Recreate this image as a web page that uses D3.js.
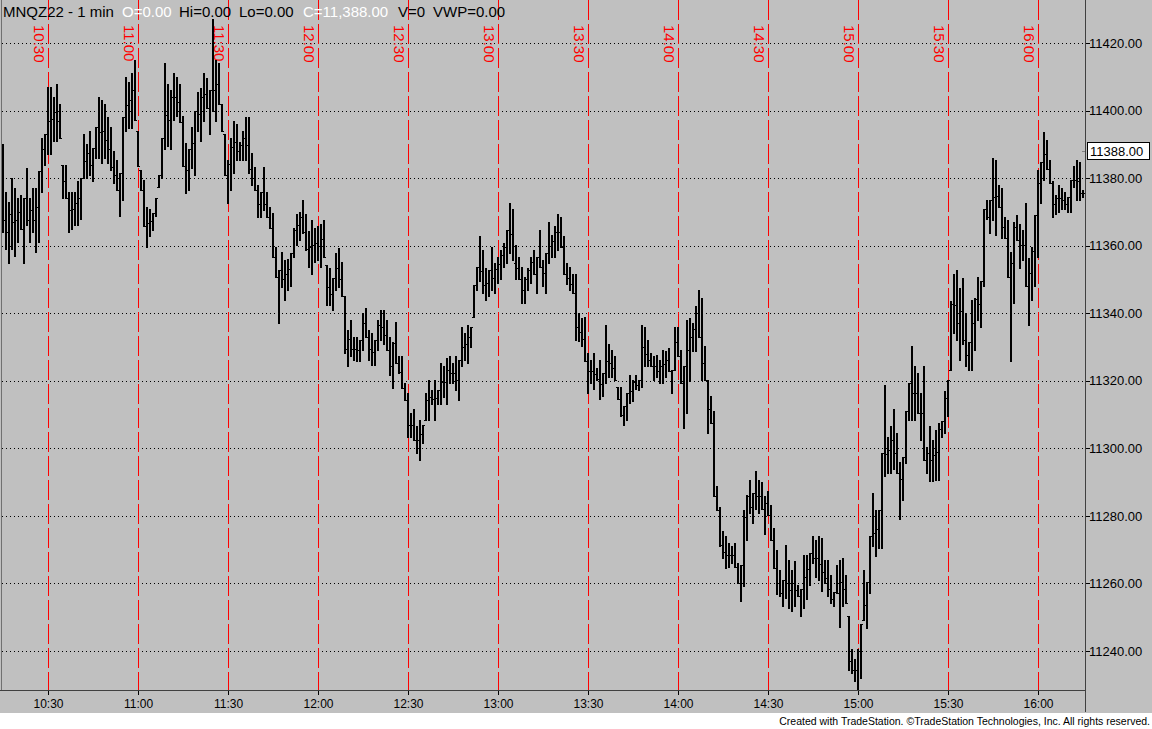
<!DOCTYPE html>
<html>
<head>
<meta charset="utf-8">
<script src="https://cdn.jsdelivr.net/npm/d3@7"></script>
<style>
  body { margin: 0; background: #c0c0c0; }
  svg { display: block; font-family: Arial, "Liberation Sans", sans-serif; }
</style>
</head>
<body>
<div id="chart"></div>
<script>
// MNQZ22, 1-minute bars from 10:15 to 16:15
const startTime = "10:15";
const endTime = "16:15";

const opens = [
  11385, 11367.5, 11364, 11369.5, 11367, 11367.5, 11370, 11365, 11374, 11367.5,
  11370.5, 11367.5, 11371.5, 11382, 11388.5, 11393, 11397, 11397.5, 11399.5, 11397,
  11384, 11379, 11374, 11370.5, 11371, 11372.5, 11374, 11380, 11385, 11387.5,
  11384, 11389, 11395, 11393.75, 11394, 11391.25, 11388.75, 11383.25, 11381, 11376.5,
  11381.5, 11398, 11401.5, 11403, 11406, 11394, 11382.5, 11376.5, 11365.75, 11366.75,
  11367.25, 11369.75, 11377.5, 11381, 11392, 11398.75, 11397.25, 11404, 11404, 11402.5,
  11396.75, 11383.5, 11382.5, 11388.5, 11390.5, 11399.75, 11399, 11404, 11405, 11400.75,
  11406, 11406, 11408, 11402, 11393, 11381, 11384.25, 11389.25, 11390.75, 11388,
  11389.75, 11391.75, 11389.75, 11382.75, 11380, 11376.5, 11372.25, 11376, 11372.25, 11368.5,
  11365.25, 11356.75, 11350.75, 11352.75, 11350, 11351.5, 11353, 11357.75, 11364.75, 11366,
  11368.5, 11364, 11359, 11359.5, 11360.25, 11360.75, 11360, 11362, 11354.25, 11347.75,
  11345.75, 11350.5, 11353.5, 11350, 11345, 11329.5, 11332.5, 11329.5, 11329.5, 11329,
  11332, 11337.25, 11333, 11329.5, 11328.5, 11332, 11336.5, 11336, 11333.5, 11329,
  11324.5, 11331.25, 11325.25, 11322.5, 11317.75, 11314.25, 11307, 11307, 11302.5, 11302.5,
  11304.25, 11308.5, 11314.25, 11315.25, 11314.5, 11315, 11317.25, 11319.75, 11319.75, 11323.25,
  11322.25, 11322.25, 11320.25, 11326.25, 11330, 11330.75, 11333, 11339, 11348.5, 11353.75,
  11352.5, 11348.5, 11349, 11352.75, 11350.5, 11353, 11354.5, 11357.25, 11359.75, 11364.75,
  11363.5, 11355, 11353.5, 11350, 11347, 11350, 11352.75, 11355.25, 11351.75, 11356.75,
  11353.75, 11352, 11357.75, 11360, 11361.25, 11364, 11364, 11359.75, 11351.75, 11350.5,
  11348.75, 11346, 11336, 11334.5, 11332.5, 11325.75, 11322.75, 11322.75, 11322, 11320.5,
  11319, 11322.25, 11326, 11325.25, 11323.75, 11318.25, 11314.5, 11309.75, 11312.5, 11316.5,
  11317, 11319.5, 11318.75, 11320.25, 11330, 11328, 11326.25, 11324.25, 11324.5, 11322.75,
  11324.25, 11325, 11326.25, 11322.75, 11323.25, 11331.5, 11327.25, 11319.25, 11324.25, 11329.25,
  11333, 11335.25, 11340, 11333, 11325.25, 11320.25, 11311.5, 11307.5, 11285.75, 11281.75,
  11271.5, 11269.25, 11268.5, 11268.5, 11268.5, 11265, 11260.25, 11265.5, 11279.75, 11286,
  11282.5, 11286.75, 11286, 11286, 11282, 11283.75, 11280.25, 11273, 11264.5, 11260.25,
  11257.25, 11261, 11260, 11258, 11260, 11258, 11256.25, 11258.5, 11262, 11264.25,
  11269, 11267.5, 11267.5, 11265.75, 11263.5, 11261.5, 11258.5, 11255.5, 11257.5, 11257.25,
  11260.5, 11258.5, 11250.25, 11237, 11234.25, 11234.5, 11240, 11249.25, 11253.5, 11260.5,
  11274, 11275, 11276, 11281.75, 11298.5, 11298.25, 11299.5, 11302.5, 11298.5, 11292.75,
  11291, 11297.5, 11311, 11319.25, 11316.5, 11316.5, 11310.5, 11310.5, 11296.5, 11298.5,
  11296.5, 11298, 11299, 11305.75, 11308, 11315, 11323.25, 11342.75, 11342.5, 11337,
  11340.75, 11332, 11327.5, 11331.5, 11337, 11344.25, 11342.75, 11349.5, 11370.75, 11368.5,
  11373.5, 11374.5, 11374.75, 11371.5, 11365.5, 11362.25, 11350.75, 11355, 11365.5, 11361.75,
  11360.25, 11360.25, 11348, 11352, 11358.5, 11369, 11378.5, 11384.75, 11387, 11382.75,
  11378.5, 11372.25, 11374, 11374, 11373.5, 11372.25, 11374.5, 11379.5, 11379.5, 11379,
  11375.5
];

const highs = [
  11390, 11376, 11373, 11380, 11377, 11374, 11375, 11374, 11383, 11374,
  11377, 11377, 11382, 11392, 11393, 11407, 11407, 11404, 11408, 11402,
  11384, 11384, 11376, 11376, 11376, 11379, 11380, 11393, 11390, 11394,
  11389, 11395, 11404, 11403, 11402, 11398, 11395, 11388, 11385.5, 11381.5,
  11398, 11410, 11408.5, 11411, 11415, 11394, 11382.5, 11379.5, 11371.5, 11370.75,
  11369.75, 11374, 11381, 11392, 11414, 11408, 11406, 11411, 11410, 11408,
  11398.25, 11390.5, 11388.5, 11395, 11400, 11405.5, 11406.75, 11411, 11409.5, 11406,
  11427, 11415, 11414, 11402, 11393, 11385.5, 11392, 11397, 11396, 11390.75,
  11394, 11398, 11398, 11387.5, 11383.25, 11378, 11376, 11383.25, 11376, 11371.5,
  11369.75, 11359.5, 11352.75, 11358, 11355.75, 11356, 11357.75, 11365.25, 11369.5, 11370,
  11373.5, 11369.5, 11364.25, 11367.5, 11365.25, 11365.75, 11366.5, 11367.5, 11354.25, 11353.25,
  11350.5, 11357.75, 11359.25, 11355.25, 11345, 11335, 11338, 11333, 11333, 11332,
  11340, 11341.5, 11335, 11334, 11332, 11338, 11341, 11341, 11338, 11333,
  11331.5, 11337.5, 11327.25, 11327.25, 11319.25, 11316.25, 11310.5, 11311.5, 11306.5, 11308.5,
  11307, 11316.25, 11320.25, 11317.25, 11320.25, 11317.25, 11325.25, 11324.25, 11326.75, 11327.25,
  11325.25, 11327.25, 11326.25, 11336, 11334, 11336.5, 11336, 11348.5, 11353.75, 11362.75,
  11358.75, 11353.25, 11352.75, 11359.75, 11354.75, 11356.75, 11358.75, 11360.75, 11364.75, 11372.5,
  11371, 11360.25, 11356.75, 11353.75, 11350.75, 11353.25, 11356.75, 11358.75, 11356.75, 11364.75,
  11355.75, 11357.75, 11367, 11363.25, 11365.75, 11369.5, 11368.5, 11362.75, 11354.75, 11353.75,
  11351.5, 11351.5, 11340, 11338.5, 11339, 11328.25, 11326.25, 11328.25, 11323.75, 11326.25,
  11322.25, 11336.5, 11330.75, 11329.25, 11327.25, 11318.25, 11318.25, 11312.5, 11316.5, 11321.75,
  11320.25, 11321.75, 11320.25, 11336.5, 11336, 11332, 11328.25, 11327.25, 11327.75, 11326.25,
  11329.25, 11328.75, 11329.75, 11323.25, 11336, 11336, 11329.25, 11324.25, 11338, 11338.5,
  11337, 11342, 11347, 11344.5, 11330.25, 11320.25, 11315.5, 11311, 11288.75, 11282.75,
  11275.5, 11274, 11272, 11271, 11272, 11266, 11265.5, 11281.75, 11286.25, 11290.75,
  11286.75, 11293.25, 11290.75, 11290, 11285.75, 11287.25, 11283.25, 11276.5, 11270, 11264,
  11261, 11271.5, 11267, 11264, 11266.5, 11259.5, 11258.5, 11268.5, 11268.5, 11269,
  11274, 11273, 11274, 11273.5, 11267, 11267, 11262.5, 11257.5, 11265.5, 11267,
  11267.5, 11262.5, 11250.25, 11240.5, 11237.5, 11240.5, 11248, 11264, 11260.5, 11274,
  11286.75, 11281.75, 11281.75, 11298.5, 11318.75, 11303.5, 11306.5, 11311.5, 11304.5, 11296,
  11297.5, 11311, 11319.25, 11330.25, 11324.25, 11322.25, 11316.5, 11324.25, 11300.5, 11306.5,
  11302.5, 11305.5, 11307.5, 11308, 11317, 11320.25, 11343.75, 11351.75, 11352.75, 11347.5,
  11350.5, 11340, 11331.5, 11344, 11344.5, 11350.75, 11349.5, 11371, 11373.5, 11373.5,
  11386, 11385.5, 11378, 11377, 11368.5, 11367.5, 11358.25, 11367, 11369, 11366.5,
  11364.75, 11372.5, 11356.25, 11359.75, 11369, 11382.5, 11384.75, 11393.75, 11391.25, 11385.25,
  11379.25, 11375, 11378, 11377, 11376, 11374.5, 11379.5, 11383.5, 11385.25, 11384.75,
  11376.5
];

const lows = [
  11364, 11359, 11355, 11359, 11357, 11361, 11365, 11355, 11366, 11361,
  11364, 11358, 11361, 11376, 11384, 11387, 11387, 11391, 11391, 11392,
  11374, 11374, 11364, 11365, 11366, 11366, 11368, 11380, 11380, 11381,
  11379, 11386, 11386, 11384.5, 11386, 11384.5, 11382.5, 11378.5, 11376.5, 11368.75,
  11373.5, 11394, 11394.75, 11394.75, 11397.25, 11383.5, 11376.5, 11365.75, 11359.75, 11362.75,
  11364.75, 11368.75, 11377.5, 11380, 11388.5, 11389.5, 11388.5, 11397.25, 11398.25, 11396.75,
  11383.5, 11375.5, 11376.5, 11383, 11381, 11394, 11391, 11397, 11400.75, 11393,
  11400, 11397, 11402, 11394, 11381, 11372.75, 11376.5, 11381.5, 11385.5, 11385.5,
  11385.5, 11385.5, 11381.5, 11378, 11376.5, 11368.5, 11368.5, 11370.5, 11368.5, 11365.25,
  11356.75, 11350.75, 11337.25, 11347.75, 11344, 11347, 11348, 11356.75, 11360.25, 11361.75,
  11363.75, 11358.75, 11353.75, 11351.75, 11355.25, 11355.75, 11353.75, 11356.75, 11342.5, 11342.5,
  11341, 11346.75, 11347.75, 11345, 11328.25, 11324.25, 11327.25, 11326.25, 11325.75, 11325.75,
  11329.25, 11333, 11326.25, 11324.75, 11324.75, 11329.25, 11332, 11331, 11329, 11321.75,
  11317.75, 11325.25, 11322.25, 11317.75, 11314.25, 11303.5, 11303.5, 11302.5, 11298.5, 11296.5,
  11301.5, 11308.5, 11308.5, 11313.25, 11308.5, 11313, 11313, 11315.25, 11313, 11319.25,
  11319.25, 11317.25, 11314.25, 11324.25, 11326.25, 11325.25, 11330, 11339, 11346.75, 11349.5,
  11346, 11344, 11345, 11347, 11346, 11349, 11350, 11353.75, 11354.75, 11357.75,
  11355.75, 11350, 11350, 11343, 11343, 11347, 11349, 11351.75, 11346, 11353.75,
  11348, 11346, 11354.75, 11356.75, 11356.75, 11358.75, 11359.75, 11351.75, 11348.75, 11347,
  11346, 11332, 11331.75, 11330.25, 11325.75, 11316.5, 11319.25, 11317.5, 11320.25, 11314.5,
  11315.5, 11319.25, 11321.25, 11321.25, 11320.25, 11314.5, 11309.5, 11307, 11308.5, 11313.5,
  11314, 11317.5, 11317.25, 11318.25, 11324.25, 11324.25, 11324.25, 11320.25, 11321.25, 11319.25,
  11319.25, 11321.25, 11322.75, 11316.5, 11323.25, 11327.25, 11319.25, 11306, 11310.5, 11320,
  11328.75, 11328.75, 11333, 11320.25, 11320.25, 11304.5, 11307.5, 11285.75, 11281.75, 11271,
  11267.5, 11264.5, 11265, 11266, 11265, 11260, 11254.75, 11259.25, 11273, 11281,
  11278, 11282, 11281, 11282, 11274.5, 11280.25, 11273, 11264.5, 11256.75, 11256.25,
  11253.25, 11255.75, 11252.75, 11251.75, 11253.25, 11256.25, 11250.25, 11252.75, 11255.25, 11259.5,
  11266, 11262, 11261, 11257.75, 11260, 11256.25, 11254.25, 11253.25, 11257.25, 11247.25,
  11253.25, 11254.25, 11234.5, 11233.5, 11231, 11228.5, 11232, 11249.25, 11246.75, 11257.25,
  11271, 11268, 11270.5, 11270.5, 11291.75, 11292.75, 11292.75, 11293.75, 11292.75, 11279,
  11284.75, 11295.75, 11308.5, 11308.5, 11308.5, 11310.5, 11302.5, 11296.5, 11292.75, 11290.25,
  11290.25, 11290.75, 11290.75, 11303.5, 11304.5, 11309.5, 11323.25, 11334, 11332, 11326.25,
  11331, 11324.25, 11323.25, 11323.25, 11329.25, 11338, 11336, 11348, 11368, 11363.75,
  11367.5, 11363.25, 11371.5, 11362.25, 11362.25, 11350.75, 11325.75, 11343, 11361.75, 11353.25,
  11355.75, 11348, 11336.5, 11344, 11348, 11356.75, 11372.5, 11379.5, 11382.75, 11378.5,
  11368.5, 11369.5, 11370, 11371, 11371, 11370, 11370, 11377.5, 11373.5, 11373.5,
  11374.5
];

const closes = [
  11367.5, 11364, 11369.5, 11367, 11367.5, 11370, 11365, 11374, 11367.5, 11370.5,
  11367.5, 11371.5, 11382, 11388.5, 11393, 11397, 11397.5, 11399.5, 11397, 11392,
  11379, 11374, 11370.5, 11371, 11372.5, 11374, 11380, 11385, 11387.5, 11384,
  11389, 11395, 11393.75, 11394, 11391.25, 11388.75, 11383.25, 11381, 11376.5, 11381.5,
  11398, 11401.5, 11403, 11406, 11397.25, 11383.5, 11376.5, 11365.75, 11366.75, 11367.25,
  11369.75, 11374, 11381, 11392, 11398.75, 11397.25, 11404, 11404, 11402.5, 11396.75,
  11383.5, 11382.5, 11388.5, 11390.5, 11399.75, 11399, 11404, 11405, 11400.75, 11406,
  11406, 11408, 11402, 11394, 11381, 11384.25, 11389.25, 11390.75, 11388, 11389.75,
  11391.75, 11389.75, 11382.75, 11380, 11376.5, 11372.25, 11376, 11372.25, 11368.5, 11365.25,
  11356.75, 11350.75, 11352.75, 11350, 11351.5, 11353, 11357.75, 11364.75, 11366, 11368.5,
  11364, 11359, 11359.5, 11360.25, 11360.75, 11360, 11362, 11356.75, 11347.75, 11345.75,
  11350.5, 11353.5, 11350, 11345, 11329.5, 11332.5, 11329.5, 11329.5, 11329, 11332,
  11337.25, 11333, 11329.5, 11328.5, 11332, 11336.5, 11336, 11333.5, 11329, 11324.5,
  11331.25, 11325.25, 11322.5, 11317.75, 11314.25, 11307, 11307, 11302.5, 11302.5, 11304.25,
  11307, 11314.25, 11315.25, 11314.5, 11315, 11317.25, 11319.75, 11319.75, 11323.25, 11322.25,
  11322.25, 11320.25, 11326.25, 11330, 11330.75, 11333, 11336, 11348.5, 11353.75, 11352.5,
  11348.5, 11349, 11352.75, 11350.5, 11353, 11354.5, 11357.25, 11359.75, 11364.75, 11363.5,
  11355, 11353.5, 11350, 11347, 11350, 11352.75, 11355.25, 11351.75, 11356.75, 11353.75,
  11352, 11357.75, 11360, 11361.25, 11364, 11364, 11359.75, 11351.75, 11350.5, 11348.75,
  11346, 11336, 11334.5, 11332.5, 11325.75, 11322.75, 11322.75, 11322, 11320.5, 11319,
  11322.25, 11326, 11325.25, 11323.75, 11320.25, 11314.5, 11309.75, 11312.5, 11316.5, 11317,
  11319.5, 11318.75, 11320.25, 11330, 11328, 11326.25, 11324.25, 11324.5, 11322.75, 11324.25,
  11325, 11326.25, 11322.75, 11323.25, 11331.5, 11327.25, 11319.25, 11324.25, 11329.25, 11333,
  11335.25, 11340, 11333, 11325.25, 11320.25, 11311.5, 11307.5, 11285.75, 11281.75, 11271.5,
  11269.25, 11268.5, 11268.5, 11268.5, 11265, 11260.25, 11265.5, 11279.75, 11286, 11282.5,
  11286.75, 11286, 11286, 11282, 11283.75, 11280.25, 11273, 11264.5, 11260.25, 11257.25,
  11261, 11260, 11258, 11260, 11258, 11256.25, 11258.5, 11262, 11264.25, 11269,
  11267.5, 11267.5, 11265.75, 11263.5, 11261.5, 11258.5, 11255.5, 11257.5, 11257.25, 11260.5,
  11258.5, 11254.25, 11237, 11234.25, 11234.5, 11240, 11248, 11253.5, 11260.5, 11274,
  11275, 11276, 11281.75, 11298.5, 11298.25, 11299.5, 11302.5, 11298.5, 11292.75, 11291,
  11297.5, 11311, 11319.25, 11316.5, 11316.5, 11310.5, 11310.5, 11296.5, 11298.5, 11296.5,
  11298, 11299, 11305.75, 11308, 11315, 11320.25, 11342.75, 11342.5, 11337, 11340.75,
  11332, 11327.5, 11331.5, 11337, 11344.25, 11342.75, 11349.5, 11370.75, 11368.5, 11373.5,
  11374.5, 11374.75, 11371.5, 11365.5, 11362.25, 11350.75, 11355, 11365.5, 11361.75, 11360.25,
  11360.25, 11348, 11352, 11358.5, 11369, 11378.5, 11384.75, 11387, 11382.75, 11378.5,
  11372.25, 11374, 11374, 11373.5, 11372.25, 11374.5, 11379.5, 11379.5, 11379, 11375.5,
  11375.5
];

const timeLabels = ["10:30", "11:00", "11:30", "12:00", "12:30", "13:00", "13:30",
                    "14:00", "14:30", "15:00", "15:30", "16:00"];
const priceTicks = [11240, 11260, 11280, 11300, 11320, 11340, 11360, 11380, 11400, 11420];
const lastPrice = 11388;

const headerTexts = [
  { text: "MNQZ22 - 1 min", x: 3, color: "#000" },
  { text: "O=0.00", x: 122, color: "#fff" },
  { text: "Hi=0.00", x: 179, color: "#000" },
  { text: "Lo=0.00", x: 239, color: "#000" },
  { text: "C=11,388.00", x: 303, color: "#fff" },
  { text: "V=0", x: 398, color: "#000" },
  { text: "VWP=0.00", x: 433, color: "#000" }
];
const footerText = "Created with TradeStation. \u00A9TradeStation Technologies, Inc. All rights reserved.";

const width = 1152, height = 729;
const plotRight = 1085, plotBottom = 690;

const parseTime = d3.timeParse("%H:%M");
const t0 = parseTime(startTime);

const bars = highs.map((h, i) => ({
  t: d3.timeMinute.offset(t0, i),
  o: opens[i], h: h, l: lows[i], c: closes[i]
}));

const svg = d3.select("#chart")
  .append("svg")
  .attr("width", width)
  .attr("height", height)
  .attr("viewBox", `0 0 ${width} ${height}`)
  .style("shape-rendering", "crispEdges");

svg.append("rect")
  .attr("width", width).attr("height", height)
  .attr("fill", "#c0c0c0");

// scales: 3 px per minute, 20 points ~ 67.6 px
const xScale = d3.scaleTime()
  .domain([parseTime(startTime), parseTime(endTime)])
  .range([3, 1083]);

const yScale = d3.scaleLinear()
  .domain([11240, 11420])
  .range([651, 43]);

svg.append("clipPath").attr("id", "plot-clip")
  .append("rect").attr("x", 0).attr("y", 0)
  .attr("width", plotRight).attr("height", plotBottom);

// horizontal dotted grid
svg.append("g")
  .selectAll("line")
  .data(priceTicks)
  .join("line")
  .attr("x1", 2).attr("x2", plotRight)
  .attr("y1", d => Math.round(yScale(d)) + 0.5)
  .attr("y2", d => Math.round(yScale(d)) + 0.5)
  .attr("stroke", "#000")
  .attr("stroke-width", 1)
  .attr("stroke-dasharray", "1,3");

// red session lines every 30 minutes
svg.append("g")
  .selectAll("line")
  .data(timeLabels)
  .join("line")
  .attr("x1", d => Math.round(xScale(parseTime(d))) + 0.5)
  .attr("x2", d => Math.round(xScale(parseTime(d))) + 0.5)
  .attr("y1", 0).attr("y2", plotBottom)
  .attr("stroke", "#ff0000")
  .attr("stroke-width", 1)
  .attr("stroke-dasharray", "20,4");

svg.append("g")
  .selectAll("text")
  .data(timeLabels)
  .join("text")
  .attr("transform", d => `translate(${Math.round(xScale(parseTime(d))) - 14}, 25) rotate(90)`)
  .attr("fill", "#ff0000")
  .style("font-size", "15px")
  .text(d => d);

// OHLC bars
const barG = svg.append("g").attr("clip-path", "url(#plot-clip)");

barG.selectAll("path.hl")
  .data(bars)
  .join("path")
  .attr("class", "hl")
  .attr("d", d => {
    const x = Math.round(xScale(d.t));
    return `M${x},${Math.round(yScale(d.h))}V${Math.round(yScale(d.l)) + 1}`;
  })
  .attr("stroke", "#000")
  .attr("stroke-width", 2)
  .attr("fill", "none");

barG.selectAll("path.oc")
  .data(bars)
  .join("path")
  .attr("class", "oc")
  .attr("d", d => {
    const x = Math.round(xScale(d.t));
    const yo = Math.round(yScale(d.o)) + 0.5;
    const yc = Math.round(yScale(d.c)) + 0.5;
    return `M${x - 2},${yo}H${x - 1}M${x + 1},${yc}H${x + 2}`;
  })
  .attr("stroke", "#000")
  .attr("stroke-width", 1)
  .attr("fill", "none");

// frame
svg.append("line")
  .attr("x1", 1.5).attr("x2", 1.5).attr("y1", 0).attr("y2", plotBottom)
  .attr("stroke", "#707070");
svg.append("line")
  .attr("x1", plotRight + 0.5).attr("x2", plotRight + 0.5).attr("y1", 0).attr("y2", plotBottom + 22)
  .attr("stroke", "#404040");
svg.append("line")
  .attr("x1", 0).attr("x2", plotRight).attr("y1", plotBottom + 0.5).attr("y2", plotBottom + 0.5)
  .attr("stroke", "#404040");

// right price axis
const yAxis = d3.axisRight(yScale)
  .tickValues(priceTicks)
  .tickSize(4)
  .tickFormat(d3.format(".2f"));

const yAxisG = svg.append("g")
  .attr("transform", `translate(${plotRight + 0.5},0)`)
  .call(yAxis);
yAxisG.select(".domain").remove();
yAxisG.selectAll("text")
  .attr("x", 3.5)
  .style("font-size", "13px")
  .style("font-family", "Arial, 'Liberation Sans', sans-serif")
  .attr("fill", "#000");

// bottom time axis
const xAxis = d3.axisBottom(xScale)
  .tickValues(timeLabels.map(parseTime))
  .tickSize(4)
  .tickFormat(d3.timeFormat("%H:%M"));

const xAxisG = svg.append("g")
  .attr("transform", `translate(0,${plotBottom + 0.5})`)
  .call(xAxis);
xAxisG.select(".domain").remove();
xAxisG.selectAll("text")
  .attr("y", 9)
  .style("font-size", "12px")
  .style("font-family", "Arial, 'Liberation Sans', sans-serif")
  .attr("fill", "#000");

// last price marker
const lastY = Math.round(yScale(lastPrice));
svg.append("rect")
  .attr("x", plotRight + 2.5).attr("y", lastY - 8.5)
  .attr("width", 62).attr("height", 17)
  .attr("fill", "#fff")
  .attr("stroke", "#000");
svg.append("text")
  .attr("x", plotRight + 5).attr("y", lastY + 5)
  .style("font-size", "13px")
  .attr("fill", "#000")
  .text(d3.format(".2f")(lastPrice));
svg.append("line")
  .attr("x1", plotRight - 3).attr("x2", plotRight).attr("y1", lastY + 0.5).attr("y2", lastY + 0.5)
  .attr("stroke", "#808080");

// header
svg.append("g")
  .selectAll("text")
  .data(headerTexts)
  .join("text")
  .attr("x", d => d.x)
  .attr("y", 17)
  .attr("fill", d => d.color)
  .style("font-size", "15px")
  .text(d => d.text);

// footer
svg.append("rect")
  .attr("x", 0).attr("y", 713)
  .attr("width", width).attr("height", height - 713)
  .attr("fill", "#fff");
svg.append("text")
  .attr("x", width - 2).attr("y", 725)
  .attr("text-anchor", "end")
  .style("font-size", "10.5px")
  .attr("fill", "#000")
  .text(footerText);
</script>
</body>
</html>
